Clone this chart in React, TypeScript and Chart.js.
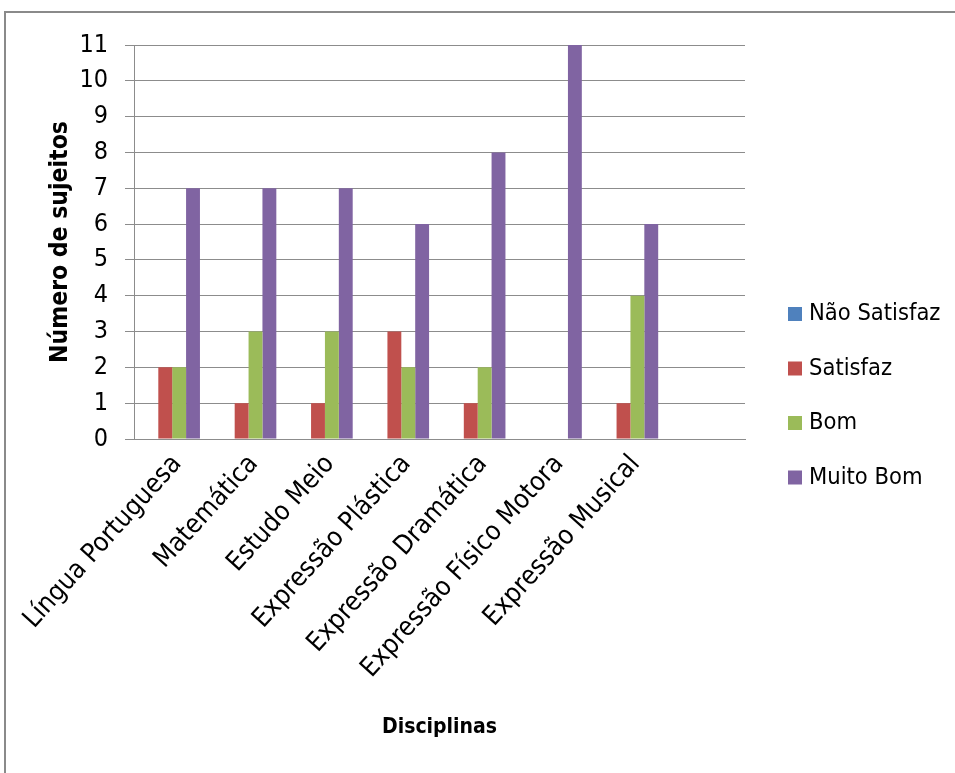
import React, { useEffect, useRef } from "react";
import { Chart, registerables } from "chart.js";

Chart.register(...registerables);

const disciplinas = [
  "Língua Portuguesa",
  "Matemática",
  "Estudo Meio",
  "Expressão Plástica",
  "Expressão Dramática",
  "Expressão Físico Motora",
  "Expressão Musical",
  "",
];

const naoSatisfaz = [0, 0, 0, 0, 0, 0, 0, null];
const satisfaz = [2, 1, 1, 3, 1, 0, 1, null];
const bom = [2, 3, 3, 2, 2, 0, 4, null];
const muitoBom = [7, 7, 7, 6, 8, 11, 6, null];

const yTicks = [0, 1, 2, 3, 4, 5, 6, 7, 8, 9, 10, 11];

const FONT = "'Liberation Sans Narrow', 'DejaVu Sans Condensed', 'Noto Sans', sans-serif";
const GRID = "#8c8c8c";

// Legend drawn on the right, one row per series, square swatch + label
const sideLegend = {
  id: "sideLegend",
  afterDraw(chart: any) {
    const ctx = chart.ctx;
    const x0 = 788;
    const y0 = 314;
    const step = 54.5;
    ctx.save();
    ctx.font = `23.5px ${FONT}`;
    ctx.textBaseline = "middle";
    ctx.textAlign = "left";
    chart.data.datasets.forEach((ds: any, i: number) => {
      const cy = y0 + i * step;
      ctx.fillStyle = ds.backgroundColor;
      ctx.fillRect(x0, cy - 7, 14, 14);
      ctx.fillStyle = "#000";
      ctx.fillText(ds.label, x0 + 21, cy);
    });
    ctx.restore();
  },
};

export default function App() {
  const ref = useRef<HTMLCanvasElement | null>(null);

  useEffect(() => {
    if (!ref.current) return;
    const chart = new Chart(ref.current, {
      type: "bar",
      data: {
        labels: disciplinas,
        datasets: [
          { label: "Não Satisfaz", data: naoSatisfaz, backgroundColor: "#4F81BD" },
          { label: "Satisfaz", data: satisfaz, backgroundColor: "#C0504D" },
          { label: "Bom", data: bom, backgroundColor: "#9BBB59" },
          { label: "Muito Bom", data: muitoBom, backgroundColor: "#8064A2" },
        ],
      },
      plugins: [sideLegend],
      options: {
        animation: false,
        responsive: false,
        events: [],
        layout: { padding: { left: 0, right: 210, top: 45, bottom: 0 } },
        datasets: {
          bar: { categoryPercentage: 0.727, barPercentage: 1, borderWidth: 0 },
        },
        plugins: {
          legend: { display: false },
          tooltip: { enabled: false },
        },
        scales: {
          x: {
            grid: { display: false },
            border: { display: true, color: GRID, width: 1 },
            ticks: {
              autoSkip: false,
              minRotation: 48,
              maxRotation: 48,
              color: "#000",
              padding: 2,
              labelOffset: 5,
              font: { family: FONT, size: 26.5 },
            },
            title: {
              display: true,
              text: "Disciplinas",
              color: "#000",
              font: { family: FONT, size: 21, weight: "bold" },
              padding: { top: 4, bottom: 33 },
            },
            afterFit(scale: any) {
              scale.height = 773 - 439;
            },
          },
          y: {
            min: 0,
            max: 11,
            afterBuildTicks(scale: any) {
              scale.ticks = yTicks.map((v) => ({ value: v }));
            },
            grid: { color: GRID, lineWidth: 1, tickLength: 9, drawTicks: true },
            border: { display: true, color: GRID, width: 1 },
            ticks: {
              color: "#000",
              padding: 17,
              font: { family: FONT, size: 25 },
            },
            title: {
              display: true,
              text: "Número de sujeitos",
              color: "#000",
              font: { family: FONT, size: 24.5, weight: "bold" },
              padding: { top: 46, bottom: 0 },
            },
            afterFit(scale: any) {
              scale.width = 134;
            },
          },
        },
      },
    });
    return () => chart.destroy();
  }, []);

  return (
    <div style={{ position: "fixed", left: 0, top: 0, width: 955, height: 773, background: "#fff", overflow: "hidden" }}>
      <div
        style={{
          position: "absolute",
          left: 4,
          top: 11,
          width: 1000,
          height: 1000,
          borderTop: "2px solid #8a8a8a",
          borderLeft: "2px solid #8a8a8a",
        }}
      />
      <canvas ref={ref} width={955} height={773} style={{ position: "absolute", left: 0, top: 0 }} />
    </div>
  );
}
